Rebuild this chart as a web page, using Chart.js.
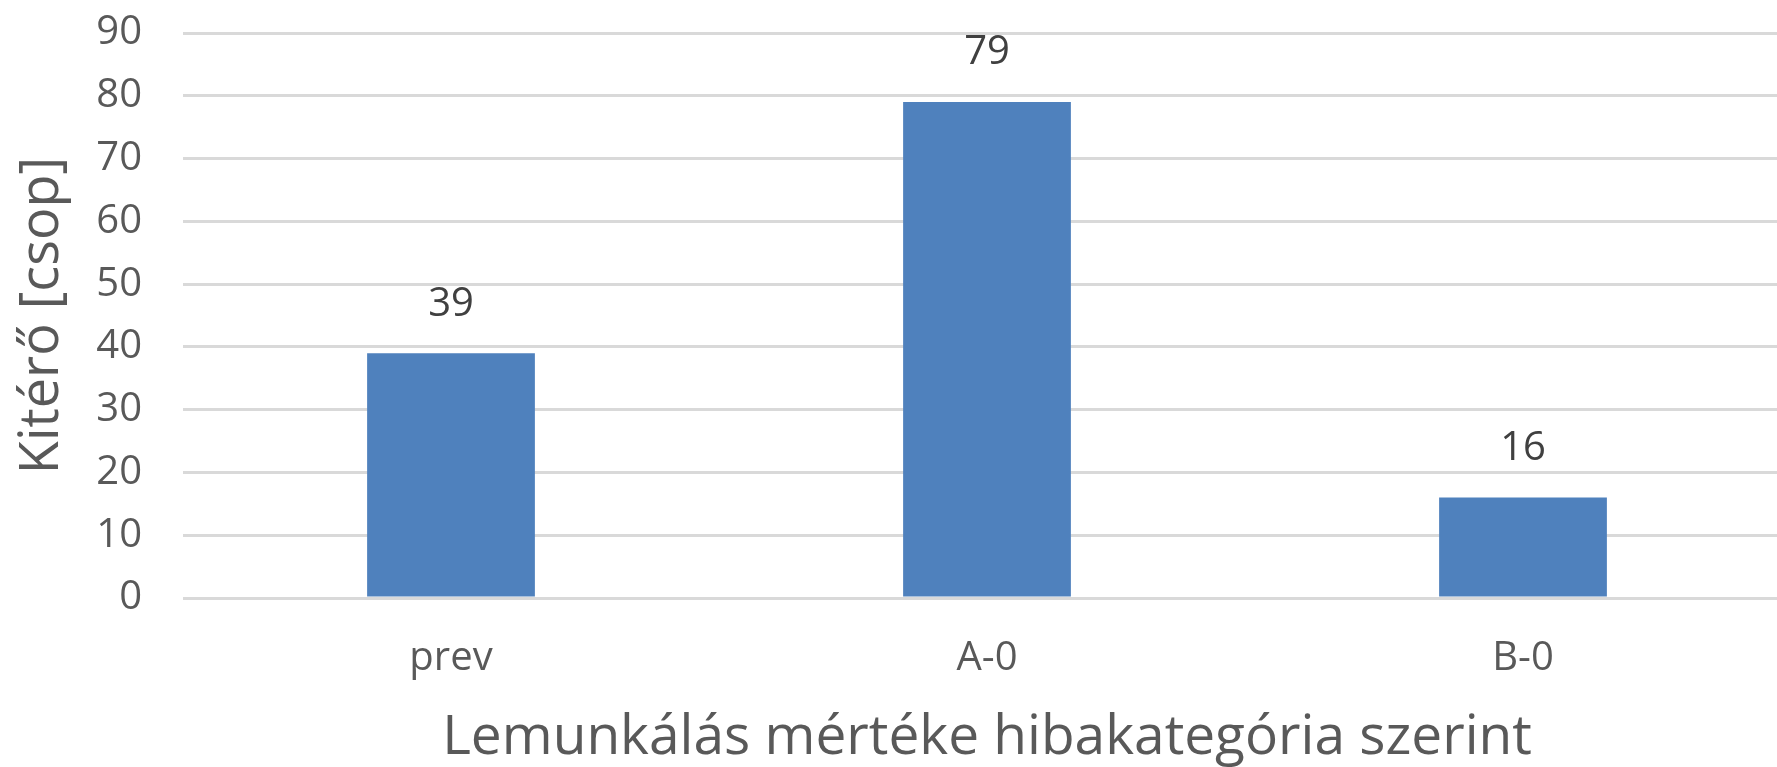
<!DOCTYPE html>
<html>
<head>
<meta charset="utf-8">
<title>Kitérő</title>
<script src="https://cdn.jsdelivr.net/npm/chart.js@4.4.0/dist/chart.umd.min.js"></script>
<style>
    body { margin: 0; background: #fff; overflow: hidden; }
    canvas { display: block; }
</style>
</head>
<body>
<canvas id="kiteroChart" width="1800" height="767"></canvas>
<script>
// adatok
const categories = ['prev', 'A-0', 'B-0'];
const values = [39, 79, 16];
const yTicks = [0, 10, 20, 30, 40, 50, 60, 70, 80, 90];

const yTitle = 'Kitérő [csop]';
const xTitle = 'Lemunkálás mértéke hibakategória szerint';

const FONT = "'Open Sans', 'DejaVu Sans', sans-serif";

// értékek kiírása az oszlopok fölé
const barLabels = {
    id: 'barLabels',
    afterDatasetsDraw(chart) {
        const ctx = chart.ctx;
        const meta = chart.getDatasetMeta(0);
        ctx.save();
        ctx.font = '40px ' + FONT;
        ctx.fillStyle = '#404040';
        ctx.textAlign = 'center';
        ctx.textBaseline = 'middle';
        meta.data.forEach(function (bar, i) {
            ctx.fillText(String(values[i]), bar.x, bar.y - 49);
        });
        ctx.restore();
    }
};

const ctx = document.getElementById('kiteroChart').getContext('2d');

const kiteroChart = new Chart(ctx, {
    type: 'bar',
    data: {
        labels: categories,
        datasets: [{
            data: values,
            backgroundColor: '#4f81bd',
            borderWidth: 0,
            barPercentage: 0.313,
            categoryPercentage: 1
        }]
    },
    options: {
        responsive: false,
        animation: false,
        layout: {
            padding: { top: 33, right: 9, bottom: 0, left: 0 }
        },
        plugins: {
            legend: { display: false },
            tooltip: { enabled: false }
        },
        scales: {
            x: {
                grid: { display: false, drawTicks: false },
                border: { display: false },
                ticks: {
                    color: '#595959',
                    padding: 37,
                    font: { family: FONT, size: 40 }
                },
                title: {
                    display: true,
                    text: xTitle,
                    color: '#595959',
                    padding: { top: 0, bottom: 1 },
                    font: { family: FONT, size: 55, lineHeight: 1 }
                },
                afterFit(scale) {
                    scale.height = 169;
                }
            },
            y: {
                min: 0,
                max: 90,
                afterBuildTicks(scale) {
                    scale.ticks = yTicks.map(v => ({ value: v }));
                },
                grid: { color: '#d9d9d9', lineWidth: 3, drawTicks: false },
                border: { display: false },
                ticks: {
                    color: '#595959',
                    padding: 41,
                    font: { family: FONT, size: 40 }
                },
                title: {
                    display: true,
                    text: yTitle,
                    color: '#595959',
                    padding: { top: 10, bottom: 0 },
                    font: { family: FONT, size: 54 }
                },
                afterFit(scale) {
                    scale.width = 183;
                    // a címkék miatti extra felső/alsó hely nem kell
                    scale.paddingTop = 0;
                    scale.paddingBottom = 0;
                }
            }
        }
    },
    plugins: [barLabels]
});
</script>
</body>
</html>
